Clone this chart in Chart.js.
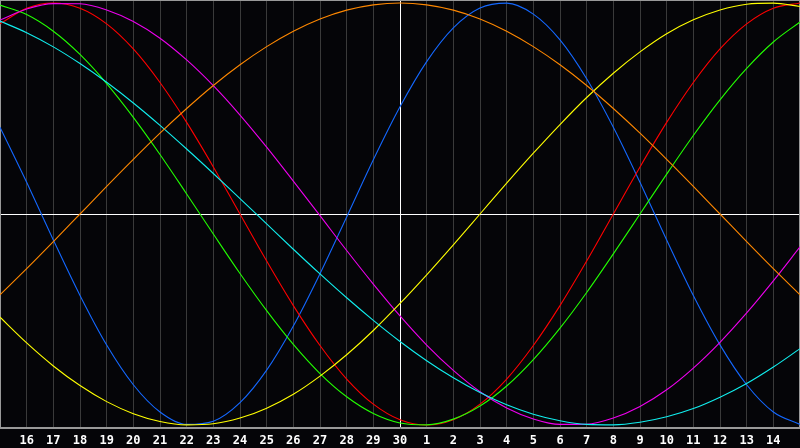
<!DOCTYPE html>
<html><head><meta charset="utf-8">
<style>html,body{margin:0;padding:0;background:#050508;overflow:hidden}#wrap{width:800px;height:448px}</style>
<script src="https://cdn.jsdelivr.net/npm/chart.js@4.4.1/dist/chart.umd.min.js"></script>
</head><body><div id="wrap"><canvas id="c" width="800" height="448"></canvas></div>
<script>
const dayLabels = ['', '16','17','18','19','20','21','22','23','24','25','26','27','28','29','30',
  '1','2','3','4','5','6','7','8','9','10','11','12','13','14', ''];

const physical = [41.1,15.0,-12.3,-38.6,-62.1,-80.9,-93.8,-99.7,-98.2,-89.4,-74.0,-53.1,-28.3,-1.4,25.7,50.8,
  72.2,88.2,97.6,99.9,94.7,82.5,64.1,41.1,15.0,-12.3,-38.6,-62.0,-80.9,-93.8,-99.7];
const emotional = [90.1,97.5,100,97.5,90.1,78.2,62.3,43.4,22.3,0,-22.3,-43.4,-62.3,-78.2,-90.1,-97.5,
  -100,-97.5,-90.1,-78.2,-62.3,-43.4,-22.3,0,22.3,43.4,62.3,78.2,90.1,97.5,100];
const intellectual = [99.0,94.5,86.6,75.6,61.8,45.8,28.2,9.5,-9.5,-28.2,-45.8,-61.8,-75.6,-86.6,-94.5,-99.0,
  -99.9,-97.2,-91.0,-81.5,-69.0,-54.1,-37.2,-18.9,0,18.9,37.2,54.1,69.0,81.5,91.0];
const intuitive = [91.9,97.1,99.7,99.6,96.7,91.2,83.3,73.0,60.8,46.9,31.7,15.6,-0.8,-17.3,-33.2,-48.3,
  -62.1,-74.1,-84.2,-91.9,-97.1,-99.7,-99.6,-96.7,-91.2,-83.3,-73.0,-60.8,-46.9,-31.7,-15.6];
const aesthetic = [-48.9,-61.1,-72.0,-81.3,-88.9,-94.6,-98.3,-99.9,-99.4,-96.7,-92.0,-85.4,-76.8,-66.7,-55.2,-42.4,
  -28.8,-14.6,0,14.6,28.8,42.4,55.2,66.7,76.8,85.4,92.0,96.7,99.4,99.9,98.3];
const awareness = [-38.3,-25.9,-13.1,0,13.1,25.9,38.3,50.0,60.9,70.7,79.3,86.6,92.4,96.6,99.1,100,
  99.1,96.6,92.4,86.6,79.3,70.7,60.9,50.0,38.3,25.9,13.1,0,-13.1,-25.9,-38.3];
const spiritual = [91.4,85.9,79.2,71.3,62.4,52.6,42.0,30.8,19.2,7.3,-4.7,-16.7,-28.4,-39.7,-50.4,-60.4,
  -69.5,-77.6,-84.6,-90.4,-94.9,-98.0,-99.7,-99.9,-98.7,-96.1,-92.2,-86.8,-80.3,-72.5,-63.8];

const series = [
  {data: awareness, color: '#ff8800'},
  {data: spiritual, color: '#11eeee'},
  {data: aesthetic, color: '#ffff00'},
  {data: intuitive, color: '#ee00ee'},
  {data: intellectual, color: '#22ff00'},
  {data: emotional, color: '#ff0000'},
  {data: physical, color: '#1468ff'}
];

const bg = {id:'bg', beforeDraw(chart){const c=chart.ctx;c.save();c.fillStyle='#050508';c.fillRect(0,0,chart.width,chart.height);c.restore();}};
const frame = {id:'frame', beforeDatasetsDraw(chart){const a=chart.chartArea,c=chart.ctx;c.save();c.strokeStyle='#999999';c.lineWidth=1;
  c.strokeRect(a.left+0.5,a.top+0.5,a.right-a.left-1,a.bottom-a.top-1);c.restore();}};

new Chart(document.getElementById('c'), {
  type: 'line',
  data: {
    labels: dayLabels,
    datasets: series.map(s => ({data: s.data, borderColor: s.color, borderWidth: 1.1, pointRadius: 0,
      pointHoverRadius: 0, fill: false, cubicInterpolationMode: 'monotone'}))
  },
  options: {
    responsive: false, devicePixelRatio: 1, animation: false,
    layout: {autoPadding: false, padding: {left: 0, right: 0, top: 0, bottom: -5}},
    plugins: {legend: {display: false}, tooltip: {enabled: false}},
    scales: {
      x: {
        type: 'category', offset: false,
        grid: {drawTicks: false, lineWidth: 1,
          color: ctx => ctx.index === 15 ? '#ffffff' : ((ctx.index === 0 || ctx.index === 30) ? '#999999' : '#3a3a3a')},
        border: {color: '#999999'},
        ticks: {color: '#ffffff', padding: 0, autoSkip: false, maxRotation: 0, minRotation: 0,
          font: {family: 'DejaVu Sans Mono', size: 12, weight: 'bold', lineHeight: '25px'}}
      },
      y: {
        min: -101.4, max: 101.4,
        afterBuildTicks: s => { s.ticks = [{value: 0}]; },
        ticks: {display: false},
        grid: {drawTicks: false, color: '#ffffff', lineWidth: 1},
        border: {color: '#999999'}
      }
    }
  },
  plugins: [bg, frame]
});
</script></body></html>
